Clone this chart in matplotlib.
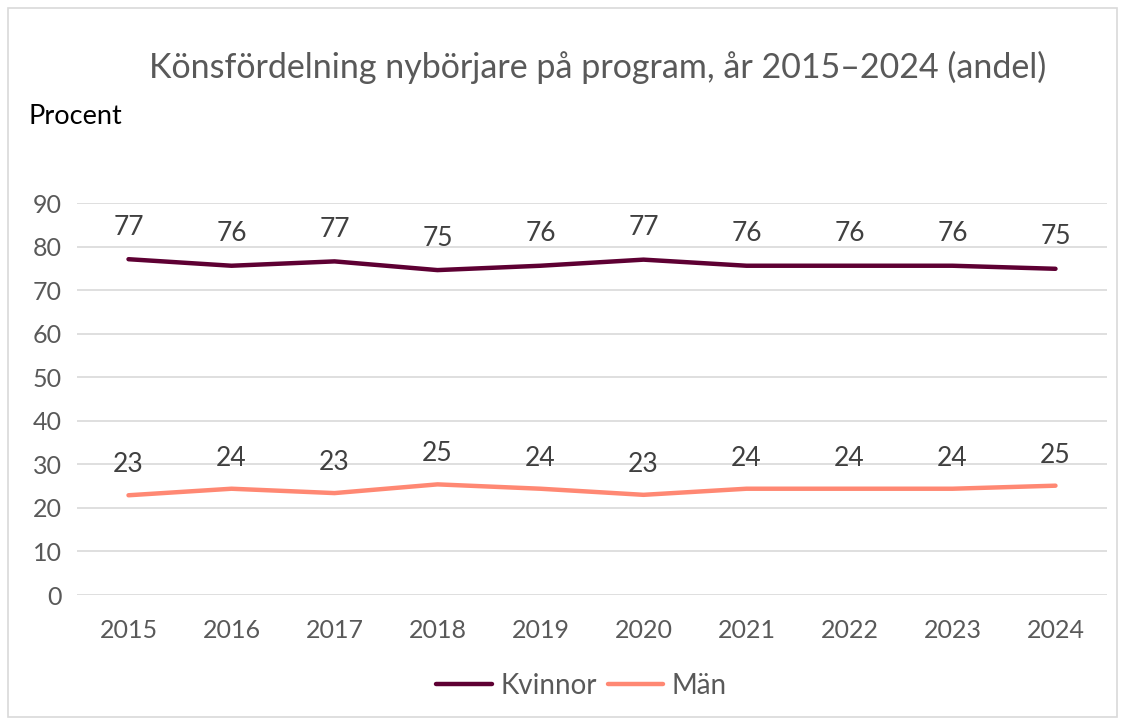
import matplotlib.pyplot as plt
from matplotlib.patches import Rectangle

plt.rcParams['font.family'] = ['Lato', 'DejaVu Sans']

years = ['2015', '2016', '2017', '2018', '2019', '2020', '2021', '2022', '2023', '2024']
kvinnor = [77.1, 75.6, 76.6, 74.6, 75.6, 77.0, 75.6, 75.6, 75.6, 74.9]
man = [22.9, 24.4, 23.4, 25.4, 24.4, 23.0, 24.4, 24.4, 24.4, 25.1]
yticks = [0, 10, 20, 30, 40, 50, 60, 70, 80, 90]

kv_color = '#5e0033'
man_color = '#ff8873'

fig = plt.figure(figsize=(11.29, 7.22), dpi=100)
ax = fig.add_axes([0.0682, 0.1759, 0.9123, 0.5429])

# outer chart border
fig.patches.append(Rectangle((0.007, 0.007), 0.982, 0.982, transform=fig.transFigure,
                             fill=False, edgecolor='#d9d9d9', linewidth=1.2))

x = range(len(years))
ax.plot(x, kvinnor, color=kv_color, linewidth=3.2, solid_capstyle='round', label='Kvinnor')
ax.plot(x, man, color=man_color, linewidth=3.2, solid_capstyle='round', label='Män')

for i in x:
    ax.annotate(f'{round(kvinnor[i])}', (i, kvinnor[i]), xytext=(0, 14), textcoords='offset points',
                ha='center', va='bottom', fontsize=19, color='#404040')
    ax.annotate(f'{round(man[i])}', (i, man[i]), xytext=(0, 13), textcoords='offset points',
                ha='center', va='bottom', fontsize=19, color='#404040')

ax.set_xlim(-0.5, len(years) - 0.5)
ax.set_ylim(0, 90)
ax.set_yticks(yticks)
ax.set_xticks(list(x))
ax.set_xticklabels(years)
ax.grid(axis='y', color='#d9d9d9', linewidth=1.2)
ax.set_axisbelow(True)
for s in ax.spines.values():
    s.set_visible(False)
ax.tick_params(length=0, labelsize=18, colors='#595959')
ax.tick_params(axis='y', pad=11)
ax.tick_params(axis='x', pad=17)
for lbl in ax.get_yticklabels():
    lbl.set_horizontalalignment('right')

fig.text(0.529, 0.907, 'Könsfördelning nybörjare på program, år 2015–2024 (andel)',
         ha='center', va='center', fontsize=24.5, color='#595959')
fig.text(0.025, 0.838, 'Procent', ha='left', va='center', fontsize=19.5, color='#000000')

fig.legend(loc='center', bbox_to_anchor=(0.515, 0.05), ncol=2, frameon=False,
           fontsize=20, labelcolor='#595959', handlelength=2.0, columnspacing=0.4, handletextpad=0.3)

fig.savefig('out.png', dpi=100)
